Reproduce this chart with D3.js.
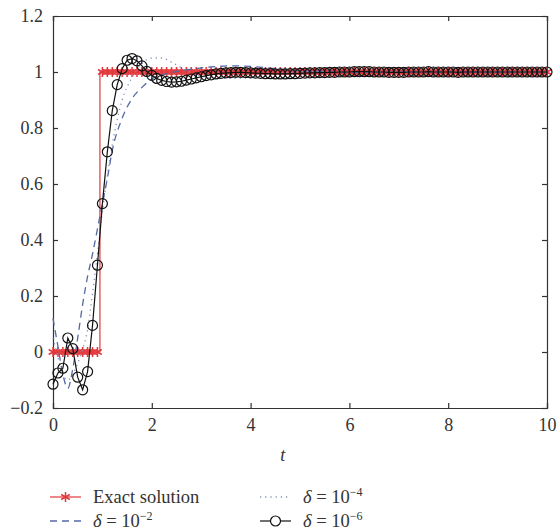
<!DOCTYPE html>
<html>
<head>
<meta charset="utf-8">
<script src="https://cdn.jsdelivr.net/npm/d3@7"></script>
<style>
  body { margin: 0; background: #fff; }
  text { font-family: "Liberation Serif", "DejaVu Serif", serif; fill: #333; }
</style>
</head>
<body>
<script>
// sample times of the numerical solutions
var tGrid = d3.range(0, 101).map(function(i){ return i / 10; });

var exactVals = [0,0,0,0,0,0,0,0,0,0,
  1,1,1,1,1,1,1,1,1,1, 1,1,1,1,1,1,1,1,1,1, 1,1,1,1,1,1,1,1,1,1,
  1,1,1,1,1,1,1,1,1,1, 1,1,1,1,1,1,1,1,1,1, 1,1,1,1,1,1,1,1,1,1,
  1,1,1,1,1,1,1,1,1,1, 1,1,1,1,1,1,1,1,1,1, 1,1,1,1,1,1,1,1,1,1, 1];

var d6Vals = [-0.115,-0.075,-0.058,0.05,0.012,-0.09,-0.135,-0.07,0.095,0.31,
  0.53,0.715,0.862,0.955,1.012,1.042,1.048,1.04,1.022,1.002,
  0.988,0.977,0.97,0.966,0.964,0.965,0.967,0.971,0.975,0.979,
  0.983,0.987,0.99,0.993,0.995,0.997,0.998,0.999,0.999,0.998,
  0.997,0.996,0.995,0.994,0.994,0.993,0.993,0.993,0.994,0.994,
  0.995,0.996,0.997,0.997,0.998,0.998,0.999,0.999,1.0,1.0,
  1.0,1.001,1.001,1.001,1.001,1.0,1.0,1.0,0.999,0.999,
  0.999,0.999,1.0,1.0,1.0,1.0,1.001,1.0,1.0,1.0,
  1.0,1.0,0.999,1.0,1.0,1.0,1.0,1.0,1.0,1.0,
  1.0,1.0,1.0,1.0,1.0,1.0,1.0,1.0,1.0,1.0, 1.0];

var d2T = [0,0.1,0.2,0.3,0.4,0.5,0.6,0.7,0.8,0.9,1.0,1.1,1.2,1.4,1.6,1.8,2.0,2.4,2.8,3.2,3.6,4.0,4.5,5,6,7,8,9,10];
var d2Vals = [0.12,0.02,-0.08,-0.13,-0.06,0.05,0.17,0.27,0.35,0.44,0.53,0.62,0.72,0.835,0.905,0.945,0.975,0.998,1.01,1.018,1.022,1.02,1.012,1.005,0.999,1.0,1.0,1.0,1.0];

var d4T = [0,0.1,0.2,0.3,0.4,0.5,0.6,0.7,0.8,0.9,1.0,1.1,1.2,1.3,1.4,1.6,1.8,2.0,2.2,2.4,2.7,3.0,3.4,3.8,4.2,4.8,5.5,6.5,8,10];
var d4Vals = [0.05,-0.02,-0.08,-0.1,-0.08,-0.04,0.01,0.08,0.21,0.35,0.5,0.63,0.74,0.83,0.9,0.98,1.03,1.05,1.05,1.035,1.005,0.985,0.977,0.978,0.988,0.998,1.003,1.001,1.0,1.0];

var xTicks = [0,2,4,6,8,10];
var yTicks = [-0.2,0,0.2,0.4,0.6,0.8,1,1.2];

var width = 559, height = 531;
var mLeft = 53, mRight = 547, mTop = 16, mBottom = 408;

var red = '#e2383c', blue = '#5468a6', dotBlue = '#8090b8';

var svg = d3.select('body').append('svg').attr('width', width).attr('height', height);

var x = d3.scaleLinear().domain([0,10]).range([mLeft,mRight]);
var y = d3.scaleLinear().domain([-0.2,1.2]).range([mBottom,mTop]);

// axes, ticks inward on all four sides
var fmt = function(d){ return String(+d.toFixed(1)).replace('-', '\u2212'); };
svg.append('g').attr('class','axis x').attr('transform','translate(0,'+mBottom+')')
  .call(d3.axisBottom(x).tickValues(xTicks).tickSize(-5).tickPadding(10).tickFormat(fmt));
svg.append('g').attr('class','axis x2').attr('transform','translate(0,'+mTop+')')
  .call(d3.axisTop(x).tickValues(xTicks).tickSize(-5).tickFormat(''));
svg.append('g').attr('class','axis y').attr('transform','translate('+mLeft+',0)')
  .call(d3.axisLeft(y).tickValues(yTicks).tickSize(-5).tickPadding(10).tickFormat(fmt));
svg.append('g').attr('class','axis y2').attr('transform','translate('+mRight+',0)')
  .call(d3.axisRight(y).tickValues(yTicks).tickSize(-5).tickFormat(''));

svg.selectAll('.axis path, .axis line').attr('stroke','#333').attr('stroke-width',1.2);
svg.selectAll('.axis text').attr('font-size',18).attr('fill','#333')
  .attr('font-family','"Liberation Serif", serif');

svg.append('text').attr('x', x(4.65)).attr('y', 461).attr('text-anchor','middle')
  .attr('font-size',18).attr('font-style','italic').text('t');

var plot = svg.append('g');

// exact solution
var exactLine = d3.line().x(function(d,i){ return x(tGrid[i]); }).y(function(d){ return y(d); }).curve(d3.curveStep);
plot.append('path').attr('d', exactLine(exactVals)).attr('fill','none').attr('stroke',red).attr('stroke-width',1.2);
var star = d3.symbol().type(d3.symbolAsterisk).size(70);
plot.selectAll('path.star').data(exactVals).enter().append('path')
  .attr('class','star')
  .attr('transform', function(d,i){ return 'translate('+x(tGrid[i])+','+y(d)+')'; })
  .attr('d', star).attr('fill','none').attr('stroke',red).attr('stroke-width',1.5);

// delta = 1e-2
var d2Line = d3.line().x(function(d,i){ return x(d2T[i]); }).y(function(d){ return y(d); }).curve(d3.curveMonotoneX);
plot.append('path').attr('d', d2Line(d2Vals)).attr('fill','none').attr('stroke',blue)
  .attr('stroke-width',1.3).attr('stroke-dasharray','7,5');

// delta = 1e-4
var d4Line = d3.line().x(function(d,i){ return x(d4T[i]); }).y(function(d){ return y(d); }).curve(d3.curveMonotoneX);
plot.append('path').attr('d', d4Line(d4Vals)).attr('fill','none').attr('stroke',dotBlue)
  .attr('stroke-width',1.3).attr('stroke-dasharray','1.2,4');

// delta = 1e-6
var d6Line = d3.line().x(function(d,i){ return x(tGrid[i]); }).y(function(d){ return y(d); });
plot.append('path').attr('d', d6Line(d6Vals)).attr('fill','none').attr('stroke','#111').attr('stroke-width',1.2);
plot.selectAll('circle.d6').data(d6Vals).enter().append('circle')
  .attr('class','d6')
  .attr('cx', function(d,i){ return x(tGrid[i]); })
  .attr('cy', function(d){ return y(d); })
  .attr('r', 5).attr('fill','none').attr('stroke','#111').attr('stroke-width',1.2);

// legend
var leg = svg.append('g');
function legLabel(g, xx, yy, sup){
  var t = g.append('text').attr('x', xx).attr('y', yy).attr('font-size',18.5);
  if (sup === null) { t.text('Exact solution'); return; }
  t.append('tspan').attr('font-style','italic').text('\u03b4');
  t.append('tspan').text(' = 10');
  t.append('tspan').attr('font-size',12).attr('dy',-7).text(sup);
}
// row 1
leg.append('line').attr('x1',50).attr('x2',81).attr('y1',497).attr('y2',497).attr('stroke',red).attr('stroke-width',1.2);
leg.append('path').attr('transform','translate(65.5,497)').attr('d',star).attr('fill','none').attr('stroke',red).attr('stroke-width',1.5);
legLabel(leg, 93, 503, null);
leg.append('line').attr('x1',260).attr('x2',291).attr('y1',497).attr('y2',497).attr('stroke',dotBlue)
  .attr('stroke-width',1.3).attr('stroke-dasharray','1.2,4');
legLabel(leg, 303, 503, '\u22124');
// row 2
leg.append('line').attr('x1',50).attr('x2',81).attr('y1',521).attr('y2',521).attr('stroke',blue)
  .attr('stroke-width',1.3).attr('stroke-dasharray','7,5');
legLabel(leg, 93, 527, '\u22122');
leg.append('line').attr('x1',260).attr('x2',291).attr('y1',521).attr('y2',521).attr('stroke','#111').attr('stroke-width',1.2);
leg.append('circle').attr('cx',275.5).attr('cy',521).attr('r',5).attr('fill','#fff').attr('stroke','#111').attr('stroke-width',1.2);
legLabel(leg, 303, 527, '\u22126');
</script>
</body>
</html>
